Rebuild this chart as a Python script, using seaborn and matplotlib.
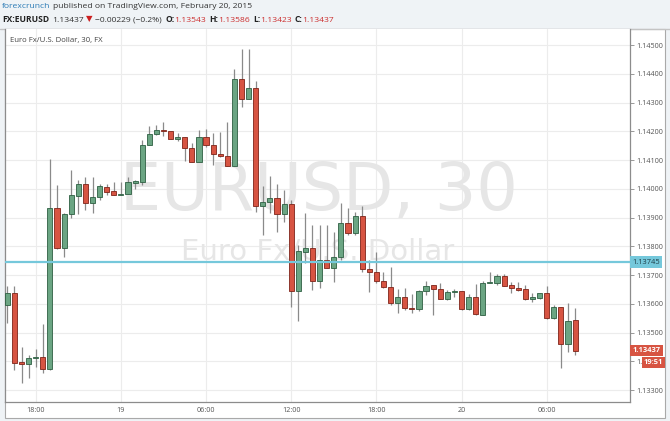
import numpy as np
import pandas as pd
import matplotlib
matplotlib.use("Agg")
import matplotlib.pyplot as plt
import matplotlib.transforms as mtransforms
from matplotlib.patches import Rectangle
from matplotlib.lines import Line2D
import seaborn as sns

# ==============================
# DATA (30 min candles, EUR/USD)
# ==============================
START = "2015-02-18 16:00"

opens = [1.13595, 1.13638, 1.13396, 1.13389, 1.13410, 1.13414, 1.13373, 1.13932, 1.13793, 1.13911,
         1.13976, 1.14017, 1.13952, 1.13970, 1.14007, 1.13991, 1.13979, 1.13982, 1.14021, 1.14025,
         1.14151, 1.14189, 1.14204, 1.14201, 1.14172, 1.14179, 1.14141, 1.14092, 1.14179, 1.14151,
         1.14121, 1.14114, 1.14079, 1.14381, 1.14311, 1.14349, 1.13940, 1.13953, 1.13967, 1.13912,
         1.13947, 1.13645, 1.13781, 1.13793, 1.13680, 1.13752, 1.13725, 1.13762, 1.13882, 1.13847,
         1.13905, 1.13720, 1.13712, 1.13680, 1.13659, 1.13602, 1.13622, 1.13585, 1.13581, 1.13644,
         1.13665, 1.13650, 1.13616, 1.13640, 1.13644, 1.13581, 1.13625, 1.13561, 1.13671, 1.13671,
         1.13696, 1.13665, 1.13655, 1.13650, 1.13618, 1.13621, 1.13636, 1.13552, 1.13588, 1.13460,
         1.13543]
highs = [1.13663, 1.13663, 1.13451, 1.13422, 1.13443, 1.13530, 1.14103, 1.14013, 1.13917, 1.14064,
         1.14030, 1.14042, 1.14042, 1.14017, 1.14017, 1.14025, 1.14025, 1.14042, 1.14030, 1.14170,
         1.14219, 1.14222, 1.14231, 1.14201, 1.14193, 1.14179, 1.14158, 1.14204, 1.14207, 1.14193,
         1.14196, 1.14233, 1.14415, 1.14486, 1.14485, 1.14375, 1.14010, 1.14044, 1.14017, 1.13996,
         1.13961, 1.13804, 1.13915, 1.13874, 1.13874, 1.13874, 1.13851, 1.13951, 1.13932, 1.13920,
         1.13940, 1.13752, 1.13781, 1.13712, 1.13727, 1.13650, 1.13654, 1.13634, 1.13648, 1.13680,
         1.13665, 1.13673, 1.13648, 1.13650, 1.13644, 1.13634, 1.13668, 1.13680, 1.13712, 1.13702,
         1.13702, 1.13675, 1.13675, 1.13665, 1.13636, 1.13638, 1.13662, 1.13596, 1.13588, 1.13604,
         1.13586]
lows = [1.13532, 1.13370, 1.13325, 1.13343, 1.13381, 1.13358, 1.13370, 1.13790, 1.13764, 1.13897,
        1.13911, 1.13925, 1.13917, 1.13961, 1.13978, 1.13978, 1.13979, 1.13982, 1.14000, 1.14013,
        1.14151, 1.14187, 1.14183, 1.14172, 1.14166, 1.14097, 1.14092, 1.14092, 1.14144, 1.14083,
        1.14110, 1.14079, 1.14079, 1.14283, 1.14311, 1.13920, 1.13839, 1.13915, 1.13849, 1.13886,
        1.13590, 1.13540, 1.13741, 1.13648, 1.13654, 1.13725, 1.13677, 1.13752, 1.13839, 1.13839,
        1.13712, 1.13642, 1.13671, 1.13654, 1.13596, 1.13567, 1.13580, 1.13567, 1.13576, 1.13630,
        1.13560, 1.13616, 1.13613, 1.13622, 1.13578, 1.13578, 1.13561, 1.13561, 1.13671, 1.13665,
        1.13663, 1.13638, 1.13645, 1.13613, 1.13605, 1.13616, 1.13547, 1.13547, 1.13378, 1.13431,
        1.13423]
closes = [1.13638, 1.13395, 1.13389, 1.13411, 1.13415, 1.13373, 1.13932, 1.13793, 1.13911, 1.13977,
          1.14017, 1.13952, 1.13970, 1.14010, 1.13990, 1.13979, 1.13983, 1.14022, 1.14027, 1.14152,
          1.14189, 1.14204, 1.14201, 1.14172, 1.14180, 1.14141, 1.14092, 1.14179, 1.14151, 1.14121,
          1.14114, 1.14079, 1.14381, 1.14311, 1.14349, 1.13940, 1.13953, 1.13967, 1.13912, 1.13947,
          1.13645, 1.13783, 1.13793, 1.13680, 1.13752, 1.13725, 1.13762, 1.13882, 1.13847, 1.13905,
          1.13720, 1.13712, 1.13680, 1.13659, 1.13602, 1.13622, 1.13584, 1.13582, 1.13644, 1.13663,
          1.13650, 1.13616, 1.13642, 1.13644, 1.13581, 1.13625, 1.13563, 1.13673, 1.13675, 1.13696,
          1.13663, 1.13654, 1.13649, 1.13616, 1.13622, 1.13636, 1.13552, 1.13588, 1.13460, 1.13541,
          1.13437]

price_ticks = [1.133, 1.134, 1.135, 1.136, 1.137, 1.138, 1.139, 1.140, 1.141, 1.142, 1.143, 1.144, 1.145]
hline_price = 1.13745
last_price = 1.13437
countdown = "19:51"

title_line = "forexcrunch"
published = "published on TradingView.com, February 20, 2015"
symbol = "FX:EURUSD"
change_text = "\u22120.00229 (\u22120.2%)"
ohlc_labels = ["O:", "H:", "L:", "C:"]
ohlc_values = ["1.13543", "1.13586", "1.13423", "1.13437"]
pane_label = "Euro Fx/U.S. Dollar, 30, FX"
wm_big = "EURUSD, 30"
wm_small = "Euro Fx/U.S. Dollar"

# ==============================
# STYLE
# ==============================
UP = "#6ba583"
UP_EDGE = "#2e5f42"
DOWN = "#d75442"
DOWN_EDGE = "#7e2419"
WICK = "#8a8a8a"
BG = "#eff3f6"
HL = "#75c8db"
RED_TXT = "#cc2f2f"

sns.set_theme(style="white")
plt.rcParams["font.family"] = ["Open Sans", "DejaVu Sans"]

W, H = 670, 421
fig = plt.figure(figsize=(W / 100, H / 100), dpi=100, facecolor=BG)

# white chart panel + header rule
fig.add_artist(Rectangle((5 / W, 1 - 418 / H), 660 / W, 389 / H, transform=fig.transFigure,
                         facecolor="white", edgecolor="#a9a9a9", lw=0.8, zorder=-5))
fig.add_artist(Line2D([0, 1], [1 - 29 / H, 1 - 29 / H], transform=fig.transFigure,
                      color="#c4c4c4", lw=1.0, zorder=-4))

ax = fig.add_axes([5 / W, 1 - 402 / H, 625 / W, 373 / H])
ax.set_zorder(2)
ax.set_facecolor("white")

df = pd.DataFrame({"time": pd.date_range(START, periods=len(opens), freq="30min"),
                   "open": opens, "high": highs, "low": lows, "close": closes})
df["x"] = np.arange(len(df))
df["up"] = df["close"] >= df["open"]
df["bottom"] = df[["open", "close"]].min(axis=1)
df["height"] = (df["close"] - df["open"]).abs().clip(lower=0.00003)

# ==============================
# CANDLES
# ==============================
ax.vlines(df["x"], df["low"], df["high"], color=WICK, lw=0.9, zorder=3)
for up, grp in df.groupby("up"):
    ax.bar(grp["x"], grp["height"], bottom=grp["bottom"], width=0.72,
           color=UP if up else DOWN, edgecolor=UP_EDGE if up else DOWN_EDGE,
           linewidth=0.6, zorder=4)

ax.axhline(hline_price, color=HL, lw=1.6, zorder=5)

# watermark
ax.text(0.502, 0.563, wm_big, transform=ax.transAxes, ha="center", va="center",
        fontsize=47, color="#e6e6e6", zorder=1, family="DejaVu Sans")
ax.text(0.5, 0.4035, wm_small, transform=ax.transAxes, ha="center", va="center",
        fontsize=21, color="#e6e6e6", zorder=1, family="DejaVu Sans")
ax.text(0.008, 0.97, pane_label, transform=ax.transAxes, ha="left", va="center",
        fontsize=5.6, color="#444444", zorder=6)

# ==============================
# AXES
# ==============================
ax.set_xlim(-0.33, 87.74)
ax.set_ylim(1.132583, 1.145557)

tick_rows = df[(df["time"].dt.minute == 0) & (df["time"].dt.hour % 6 == 0)]
tick_labels = [t.strftime("%d").lstrip("0") if t.hour == 0 else t.strftime("%H:%M")
               for t in tick_rows["time"]]
ax.set_xticks(tick_rows["x"])
ax.set_xticklabels(tick_labels)
ax.set_yticks(price_ticks)
ax.set_yticklabels([f"{p:.5f}" for p in price_ticks])
ax.yaxis.tick_right()
ax.tick_params(axis="x", length=0, pad=3.5, labelsize=5.2, labelcolor="#555555")
ax.tick_params(axis="y", length=3, width=0.6, color="#888888", pad=1.5,
               labelsize=5.2, labelcolor="#555555")
ax.grid(True, color="#ececec", lw=0.8, zorder=0)
ax.set_axisbelow(True)
for side in ["left", "bottom", "right"]:
    ax.spines[side].set_color("#8c8c8c")
    ax.spines[side].set_linewidth(0.9)
ax.spines["top"].set_visible(False)

# price boxes on the right scale
trans = mtransforms.blended_transform_factory(ax.transAxes, ax.transData)
ax.text(1.004, hline_price, f"{hline_price:.5f}", transform=trans, ha="left", va="center",
        fontsize=5.4, color="#1f3f48", clip_on=False, zorder=10,
        bbox=dict(boxstyle="square,pad=0.28", fc=HL, ec="none"))
ax.text(1.004, last_price, f"{last_price:.5f}", transform=trans, ha="left", va="center",
        fontsize=5.4, color="white", fontweight="bold", clip_on=False, zorder=10,
        bbox=dict(boxstyle="square,pad=0.28", fc=DOWN, ec="none"))
ax.text(1.022, last_price - 0.00041, countdown, transform=trans, ha="left", va="center",
        fontsize=5.4, color="white", fontweight="bold", clip_on=False, zorder=10,
        bbox=dict(boxstyle="square,pad=0.3", fc=DOWN, ec="none"))

# ==============================
# HEADER
# ==============================
renderer = fig.canvas.get_renderer()


def draw_parts(parts, x, y, size):
    for s, color, weight, gap in parts:
        t = fig.text(x / W, 1 - y / H, s, color=color, fontsize=size, fontweight=weight,
                     ha="left", va="center")
        x += t.get_window_extent(renderer=renderer).width + gap


draw_parts([(title_line, "#2a7ab5", "normal", 3), (published, "#333333", "normal", 0)], 2, 7, 6.1)

parts = [(symbol, "#222222", "bold", 3), ("1.13437", "#333333", "normal", 2),
         ("\u25bc", "#cc1f1f", "normal", 3), (change_text, "#333333", "normal", 3)]
for lab, val in zip(ohlc_labels, ohlc_values):
    parts.append((lab, "#222222", "bold", 0))
    parts.append((val, RED_TXT, "normal", 3))
draw_parts(parts, 2, 20, 6.1)

fig.savefig("out.png", dpi=100, facecolor=BG)
